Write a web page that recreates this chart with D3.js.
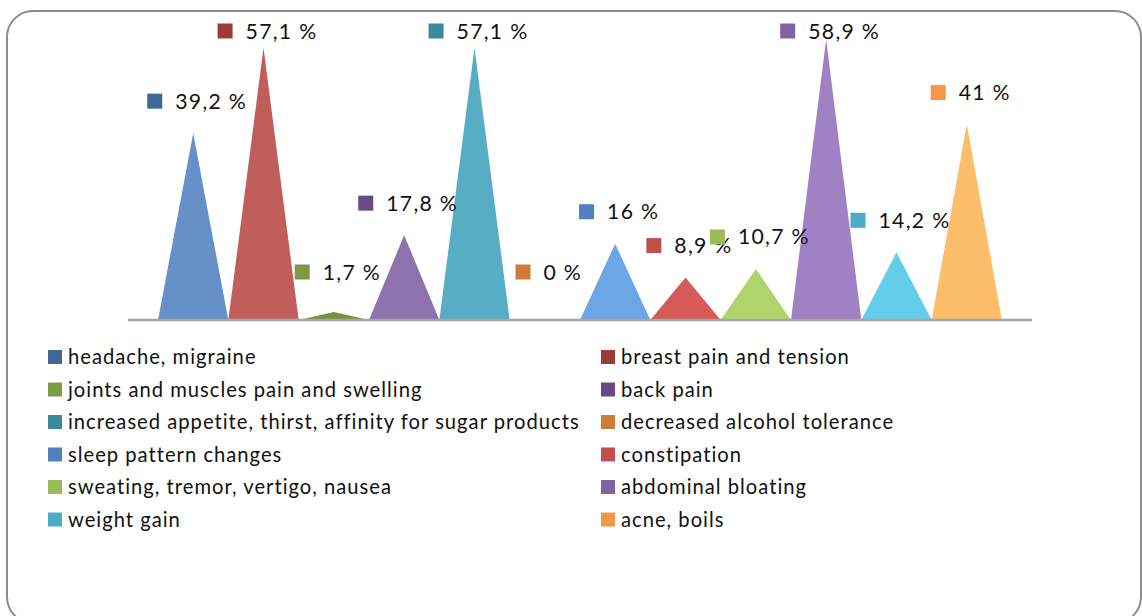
<!DOCTYPE html>
<html>
<head>
<meta charset="utf-8">
<script src="https://cdn.jsdelivr.net/npm/d3@7"></script>
<style>
  html, body { margin: 0; padding: 0; background: #fff; }
  svg { display: block; font-family: Lato, "Open Sans", sans-serif; }
</style>
</head>
<body>
<svg id="chart" width="1142" height="616"></svg>
<script>
// Symptom categories and their shares (percent)
const categories = [
  "headache, migraine",
  "breast pain and tension",
  "joints and muscles pain and swelling",
  "back pain",
  "increased appetite, thirst, affinity for sugar products",
  "decreased alcohol tolerance",
  "sleep pattern changes",
  "constipation",
  "sweating, tremor, vertigo, nausea",
  "abdominal bloating",
  "weight gain",
  "acne, boils"
];
const values = [39.2, 57.1, 1.7, 17.8, 57.1, 0, 16, 8.9, 10.7, 58.9, 14.2, 41];
const valueLabels = ["39,2 %", "57,1 %", "1,7 %", "17,8 %", "57,1 %", "0 %", "16 %", "8,9 %", "10,7 %", "58,9 %", "14,2 %", "41 %"];

// Fill of each pyramid and the darker swatch used in labels and legend
const shapeColors = ["#6590C8", "#C05E5B", "#77933C", "#8E72AE", "#57AEC4", "#E08A3E",
                     "#6DA6E4", "#D65A58", "#AFD46A", "#A081C4", "#64CDEA", "#FDBE6B"];
const swatchColors = ["#3F6797", "#9E3B39", "#7C9A45", "#674C84", "#3A8A9C", "#D07B38",
                      "#4F81BD", "#C0504D", "#9BBB59", "#8064A2", "#4BACC6", "#F79646"];

const svg = d3.select("#chart");

// Outer rounded frame
svg.append("rect")
  .attr("x", 7).attr("y", 11)
  .attr("width", 1134).attr("height", 612)
  .attr("rx", 26).attr("ry", 26)
  .attr("fill", "#fff")
  .attr("stroke", "#8c8c8c")
  .attr("stroke-width", 2);

const plot = { left: 128, right: 1032, top: 34, bottom: 320 };

const x = d3.scaleBand()
  .domain(categories)
  .range([plot.left, plot.right])
  .paddingInner(0)
  .paddingOuter(0.427);

const y = d3.scaleLinear()
  .domain([0, 60])
  .range([plot.bottom, plot.top]);

// Pyramids
const shapes = svg.append("g");
categories.forEach((c, i) => {
  if (values[i] <= 0) return;
  const x0 = x(c), x1 = x(c) + x.bandwidth(), xm = x(c) + x.bandwidth() / 2;
  const path = d3.path();
  path.moveTo(x0, y(0));
  path.lineTo(xm, y(values[i]));
  path.lineTo(x1, y(0));
  path.closePath();
  shapes.append("path")
    .attr("d", path.toString())
    .attr("fill", shapeColors[i]);
});

// Category axis line
const axis = d3.axisBottom(x).tickSize(0).tickFormat("");
const axisG = svg.append("g")
  .attr("transform", `translate(0,${plot.bottom})`)
  .call(axis);
axisG.select(".domain")
  .attr("stroke", "#a6a6a6")
  .attr("stroke-width", 2.5)
  .attr("d", `M${plot.left},0H${plot.right}`);

// Data labels: swatch + value, centred over each peak
const labels = svg.append("g");
categories.forEach((c, i) => {
  const xm = x(c) + x.bandwidth() / 2;
  let cy = y(values[i]) - 32;
  cy = Math.max(31, Math.min(272, cy));
  const g = labels.append("g");
  g.append("rect")
    .attr("width", 15).attr("height", 15)
    .attr("y", -7.5)
    .attr("fill", swatchColors[i]);
  const t = g.append("text")
    .attr("x", 28)
    .attr("y", 7.5)
    .attr("font-size", 21.2)
    .attr("letter-spacing", 1.3)
    .attr("fill", "#111")
    .text(valueLabels[i]);
  const w = 28 + t.node().getComputedTextLength();
  g.attr("transform", `translate(${xm + 4 - w / 2},${cy})`);
});

// Legend in two columns
const legend = svg.append("g");
const colX = [48, 601];
const rowY0 = 357, rowStep = 32.5;
categories.forEach((c, i) => {
  const col = i % 2, row = Math.floor(i / 2);
  const g = legend.append("g")
    .attr("transform", `translate(${colX[col]},${rowY0 + row * rowStep})`);
  g.append("rect")
    .attr("width", 14).attr("height", 14)
    .attr("y", -7)
    .attr("fill", swatchColors[i]);
  g.append("text")
    .attr("x", 20)
    .attr("y", 7)
    .attr("font-size", 20.2)
    .attr("letter-spacing", 1.0)
    .attr("fill", "#111")
    .text(c);
});
</script>
</body>
</html>
